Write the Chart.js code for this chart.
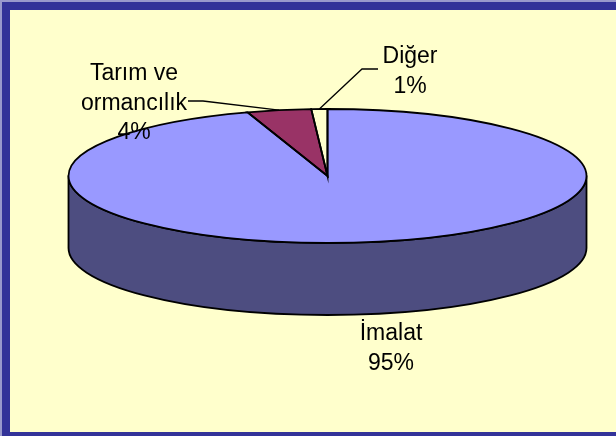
<!DOCTYPE html>
<html>
<head>
<meta charset="utf-8">
<script src="https://cdn.jsdelivr.net/npm/chart.js@4.4.1/dist/chart.umd.min.js"></script>
<style>
  html, body { margin: 0; padding: 0; width: 616px; height: 436px; overflow: hidden; background: #9a9acc; }
  #frame { position: absolute; left: 2px; top: 2px; width: 700px; height: 422px;
           border: 8px solid #333399; border-right: none; background: #FFFFCC; }
  #c { position: absolute; left: 0; top: 0; }
</style>
</head>
<body>
<div id="frame"></div>
<canvas id="c" width="616" height="436"></canvas>
<script>
// ---- data ----
const categories = ['İmalat', 'Tarım ve ormancılık', 'Diğer'];
const labelLines = [['İmalat'], ['Tarım ve', 'ormancılık'], ['Diğer']];
const values = [95, 4, 1];
const pctLabels = ['95%', '4%', '1%'];
const topColors = ['#9999FF', '#993366', '#FFFFCC'];
const sideColors = ['#4D4D80', '#4D1A33', '#808066'];

// ---- layout / style ----
const DEPTH = 72;
const FONT = '23px "Liberation Sans", Arial, sans-serif';
const LINE_H = 29.5;
const labelAnchors = [ {x: 391, y: 340}, {x: 134, y: 80}, {x: 410, y: 63} ];
const leaderStarts = [ null, [[188, 101], [203, 101]], [[378, 69], [362, 69]] ];

function geom(chart) {
  const meta = chart.getDatasetMeta(0);
  const a0 = meta.data[0];
  const ca = chart.chartArea;
  const ry = a0.outerRadius;
  const rx = (ca.right - ca.left) / 2;
  return { meta, cx: a0.x, cy: a0.y, rx, ry, sx: rx / ry };
}

const pie3d = {
  id: 'pie3d',
  beforeDatasetsDraw(chart) {
    const ctx = chart.ctx;
    const g = geom(chart);
    // side walls (front half only)
    ctx.save();
    ctx.lineWidth = 1.8;
    ctx.strokeStyle = '#000';
    ctx.lineJoin = 'round';
    g.meta.data.forEach((arc, i) => {
      const s = arc.startAngle, e = arc.endAngle;
      for (let k = -1; k <= 1; k++) {
        const lo = Math.max(s, 2 * Math.PI * k);
        const hi = Math.min(e, 2 * Math.PI * k + Math.PI);
        if (hi <= lo) continue;
        ctx.beginPath();
        ctx.ellipse(g.cx, g.cy, g.rx, g.ry, 0, lo, hi, false);
        ctx.lineTo(g.cx + g.rx * Math.cos(hi), g.cy + DEPTH + g.ry * Math.sin(hi));
        ctx.ellipse(g.cx, g.cy + DEPTH, g.rx, g.ry, 0, hi, lo, true);
        ctx.closePath();
        ctx.fillStyle = sideColors[i];
        ctx.fill();
        ctx.stroke();
      }
    });
    ctx.restore();
    // stretch the library's circular pie into an ellipse
    ctx.save();
    ctx.translate(g.cx, g.cy);
    ctx.scale(g.sx, 1);
    ctx.translate(-g.cx, -g.cy);
  },
  afterDatasetsDraw(chart) {
    const ctx = chart.ctx;
    ctx.restore();
    const g = geom(chart);
    ctx.save();
    ctx.lineWidth = 1.8;
    ctx.strokeStyle = '#000';
    ctx.lineJoin = 'miter';
    g.meta.data.forEach((arc) => {
      ctx.beginPath();
      ctx.moveTo(g.cx, g.cy);
      ctx.ellipse(g.cx, g.cy, g.rx, g.ry, 0, arc.startAngle, arc.endAngle, false);
      ctx.closePath();
      ctx.stroke();
    });
    // leader lines
    ctx.lineWidth = 1.3;
    g.meta.data.forEach((arc, i) => {
      const pts = leaderStarts[i];
      if (!pts) return;
      const mid = (arc.startAngle + arc.endAngle) / 2;
      ctx.beginPath();
      ctx.moveTo(pts[0][0], pts[0][1]);
      for (let j = 1; j < pts.length; j++) ctx.lineTo(pts[j][0], pts[j][1]);
      ctx.lineTo(g.cx + g.rx * Math.cos(mid), g.cy + g.ry * Math.sin(mid));
      ctx.stroke();
    });
    // labels
    ctx.fillStyle = '#000';
    ctx.font = FONT;
    ctx.textAlign = 'center';
    ctx.textBaseline = 'alphabetic';
    labelLines.forEach((lines, i) => {
      const a = labelAnchors[i];
      const all = lines.concat([pctLabels[i]]);
      all.forEach((t, j) => ctx.fillText(t, a.x, a.y + j * LINE_H));
    });
    ctx.restore();
  }
};

new Chart(document.getElementById('c'), {
  type: 'pie',
  data: {
    labels: categories,
    datasets: [{
      data: values,
      backgroundColor: topColors,
      borderWidth: 0,
      offset: 0,
      hoverOffset: 0
    }]
  },
  options: {
    responsive: false,
    animation: false,
    events: [],
    layout: { padding: { left: 68.5, right: 29.5, top: 109, bottom: 193 } },
    plugins: { legend: { display: false }, tooltip: { enabled: false } }
  },
  plugins: [pie3d]
});
</script>
</body>
</html>
